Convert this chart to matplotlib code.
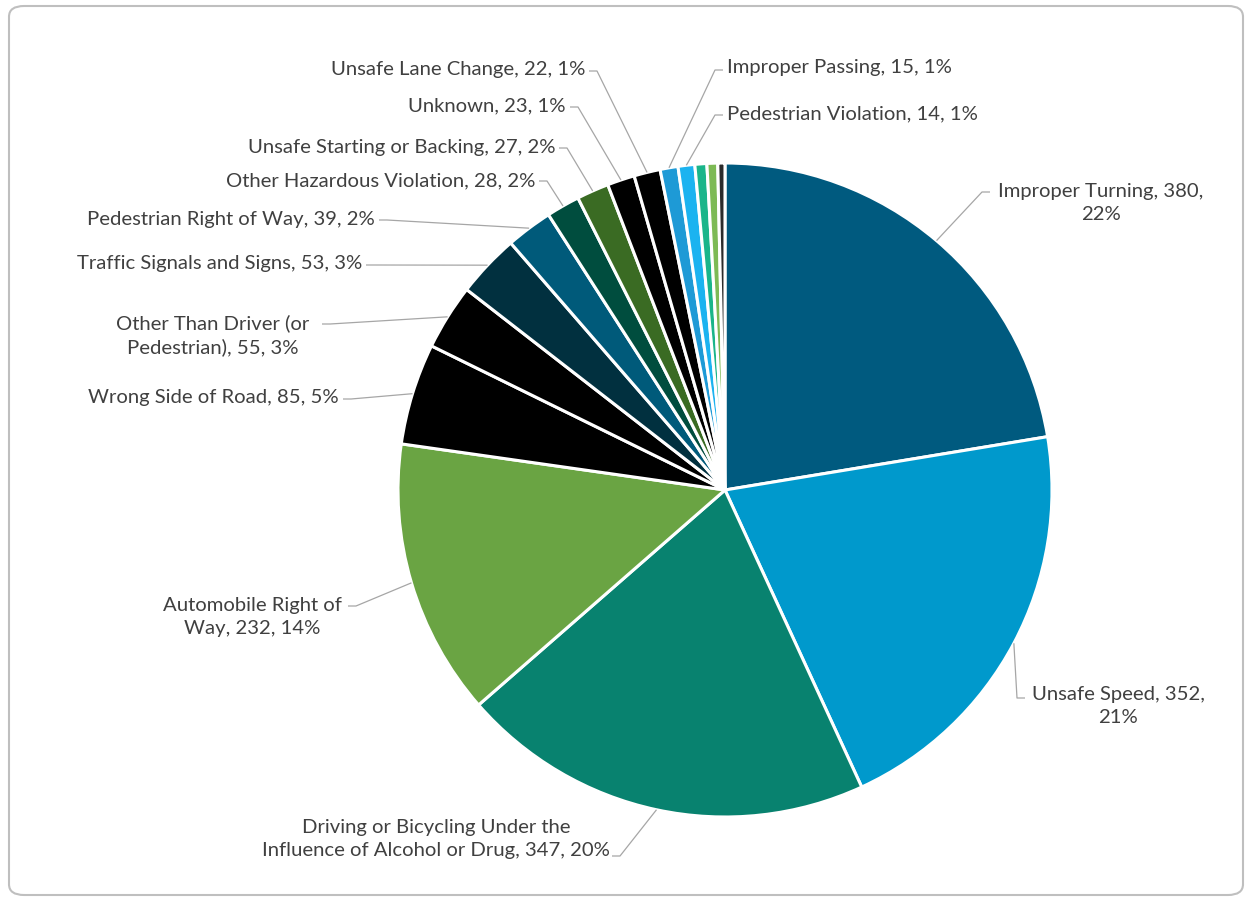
import numpy as np
import matplotlib
matplotlib.use("Agg")
import matplotlib.pyplot as plt
from matplotlib.patches import FancyBboxPatch

# ---------------- data ----------------
categories = [
    "Improper Turning", "Unsafe Speed",
    "Driving or Bicycling Under the Influence of Alcohol or Drug",
    "Automobile Right of Way", "Wrong Side of Road",
    "Other Than Driver (or Pedestrian)", "Traffic Signals and Signs",
    "Pedestrian Right of Way", "Other Hazardous Violation",
    "Unsafe Starting or Backing", "Unknown", "Unsafe Lane Change",
    "Improper Passing", "Pedestrian Violation",
    "Other A", "Other B", "Other C",
]
values = [380, 352, 347, 232, 85, 55, 53, 39, 28, 27, 23, 22, 15, 14, 10, 9, 6]
percents = ["22%", "21%", "20%", "14%", "5%", "3%", "3%", "2%", "2%", "2%",
            "1%", "1%", "1%", "1%", "", "", ""]
colors = ["#005A7F", "#0099CC", "#08826F", "#6AA443", "#000000", "#000000",
          "#01303F", "#005A7A", "#004D3E", "#3A6B23", "#000000", "#000000",
          "#1E9AD6", "#1BB3F0", "#1AB58A", "#7DBA55", "#2B2B2B"]

# label text (with line breaks as in the original)
label_texts = [
    "Improper Turning, 380,\n22%",
    "Unsafe Speed, 352,\n21%",
    "Driving or Bicycling Under the\nInfluence of Alcohol or Drug, 347, 20%",
    "Automobile Right of\nWay, 232, 14%",
    "Wrong Side of Road, 85, 5%",
    "Other Than Driver (or\nPedestrian), 55, 3%",
    "Traffic Signals and Signs, 53, 3%",
    "Pedestrian Right of Way, 39, 2%",
    "Other Hazardous Violation, 28, 2%",
    "Unsafe Starting or Backing, 27, 2%",
    "Unknown, 23, 1%",
    "Unsafe Lane Change, 22, 1%",
    "Improper Passing, 15, 1%",
    "Pedestrian Violation, 14, 1%",
]

# ---------------- layout (pixel coords, y downwards) ----------------
W, H = 1252, 899
CX, CY, R = 725, 490, 327
# (text x, text y, ha, leader start x, leader start y, tick direction)
label_layout = [
    (1101, 203, "center", 990, 192, -1),
    (1118, 706, "center", 1025, 698, -1),
    (436, 839, "center", 612, 856, 1),
    (252, 617, "center", 348, 606, 1),
    (339, 397, "right", 343, 399, 1),
    (213, 335, "center", 322, 324, 1),
    (362, 264, "right", 366, 265, 1),
    (375, 219, "right", 379, 220, 1),
    (535, 181, "right", 539, 181, 1),
    (555, 147, "right", 559, 148, 1),
    (566, 106, "right", 570, 107, 1),
    (585, 70, "right", 589, 71, 1),
    (727, 68, "left", 723, 70, -1),
    (727, 114, "left", 723, 115, -1),
]

plt.rcParams['font.family'] = ['Lato', 'DejaVu Sans']
fig = plt.figure(figsize=(W / 100, H / 100), dpi=100)
fig.patch.set_facecolor("white")
ax = fig.add_axes([0, 0, 1, 1])

def py(y):
    return H - y

wedges, _ = ax.pie(values, colors=colors, startangle=90, counterclock=False,
                   center=(CX, py(CY)), radius=R,
                   wedgeprops=dict(edgecolor="white", linewidth=2.2))
ax.set_xlim(0, W)
ax.set_ylim(0, H)
ax.set_aspect("equal")
ax.axis("off")

text_color = "#404040"
line_color = "#A6A6A6"
for i, txt in enumerate(label_texts):
    tx, ty, ha, sx, sy, d = label_layout[i]
    ax.text(tx, py(ty), txt, ha=ha, va="center", fontsize=14.6,
            color=text_color, linespacing=1.38)
    w = wedges[i]
    mid = np.deg2rad((w.theta1 + w.theta2) / 2)
    ex = CX + R * np.cos(mid)
    ey = py(CY) + R * np.sin(mid)
    ax.plot([sx, sx + 8 * d, ex], [py(sy), py(sy), ey], color=line_color,
            lw=0.9, solid_capstyle="butt")

# rounded border around the figure
border = FancyBboxPatch((9 / W, 4 / H), (W - 18) / W, (H - 10) / H,
                        boxstyle="round,pad=0,rounding_size=0.012",
                        transform=fig.transFigure, facecolor="none",
                        edgecolor="#BFBFBF", linewidth=1.5)
fig.patches.append(border)

fig.savefig("out.png", dpi=100)
